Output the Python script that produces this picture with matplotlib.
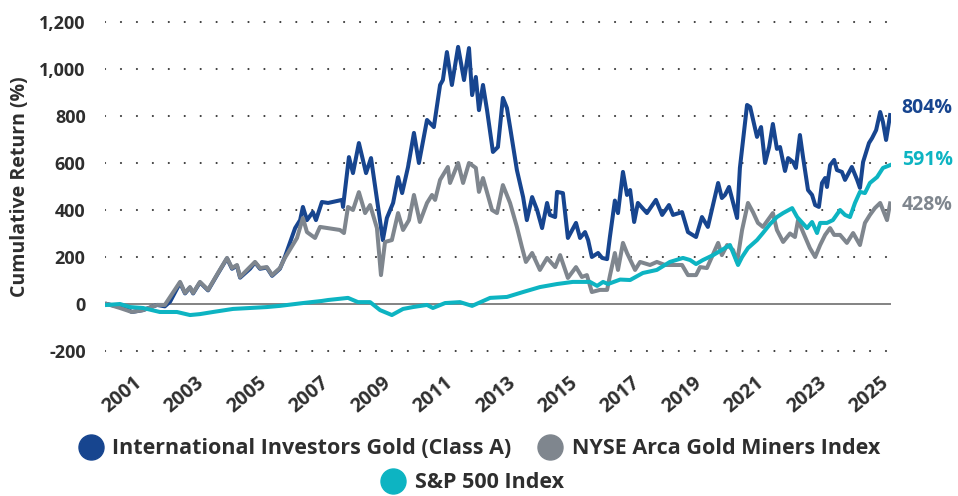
import numpy as np
import matplotlib
matplotlib.use('Agg')
import matplotlib.pyplot as plt
import matplotlib.transforms as mtransforms
from matplotlib.lines import Line2D

plt.rcParams['font.family'] = ['Open Sans', 'DejaVu Sans']

# ── 데이터 (그림에서 읽은 근사값, 누적수익률 %) ─────────────────────────
gold_years = [2000.00, 2000.26, 2000.58, 2000.80, 2001.16, 2001.61, 2001.86, 2002.03, 2002.35, 2002.51,
              2002.67, 2002.77, 2002.99, 2003.25, 2003.57, 2003.86, 2004.02, 2004.18, 2004.28, 2004.60,
              2004.76, 2004.92, 2005.14, 2005.31, 2005.56, 2005.72, 2006.05, 2006.21, 2006.30, 2006.43,
              2006.62, 2006.72, 2006.91, 2007.11, 2007.56, 2007.59, 2007.78, 2007.91, 2008.10, 2008.33,
              2008.49, 2008.87, 2009.00, 2009.20, 2009.36, 2009.49, 2009.68, 2009.87, 2010.03, 2010.29,
              2010.51, 2010.71, 2010.80, 2010.93, 2011.09, 2011.29, 2011.48, 2011.64, 2011.74, 2011.86,
              2011.96, 2012.09, 2012.22, 2012.41, 2012.57, 2012.73, 2012.86, 2012.96, 2013.18, 2013.38,
              2013.50, 2013.67, 2013.83, 2013.99, 2014.15, 2014.24, 2014.41, 2014.47, 2014.66, 2014.82,
              2015.08, 2015.21, 2015.37, 2015.47, 2015.59, 2015.79, 2015.92, 2016.08, 2016.17, 2016.33,
              2016.43, 2016.59, 2016.72, 2016.82, 2016.95, 2017.07, 2017.36, 2017.65, 2017.85, 2018.07,
              2018.20, 2018.49, 2018.68, 2018.94, 2019.13, 2019.32, 2019.65, 2019.77, 2019.87, 2020.00,
              2020.26, 2020.35, 2020.58, 2020.68, 2020.90, 2021.03, 2021.16, 2021.29, 2021.41, 2021.54,
              2021.64, 2021.80, 2021.90, 2022.06, 2022.15, 2022.28, 2022.38, 2022.54, 2022.67, 2022.77,
              2022.89, 2022.99, 2023.09, 2023.15, 2023.25, 2023.38, 2023.47, 2023.63, 2023.73, 2023.95,
              2024.12, 2024.21, 2024.31, 2024.50, 2024.60, 2024.73, 2024.86, 2024.95, 2025.05, 2025.18]
gold_vals = [0, -8, -17, -34, -26, -4, -10, 10, 90, 45,
             70, 45, 92, 58, 130, 194, 150, 163, 112, 150,
             177, 150, 155, 120, 150, 200, 323, 357, 413, 357,
             391, 357, 434, 430, 443, 413, 625, 557, 685, 557,
             621, 272, 366, 430, 540, 472, 583, 728, 600, 783,
             753, 932, 953, 1072, 932, 1094, 953, 1089, 889, 966,
             825, 932, 825, 647, 668, 877, 834, 753, 570, 455,
             357, 455, 400, 323, 430, 379, 370, 477, 472, 281,
             345, 281, 306, 272, 200, 217, 196, 191, 285, 440,
             387, 562, 464, 485, 349, 430, 387, 443, 379, 421,
             379, 391, 306, 285, 370, 328, 515, 451, 464, 498,
             366, 579, 847, 838, 711, 753, 600, 668, 766, 660,
             668, 566, 621, 604, 579, 719, 625, 485, 464, 421,
             413, 515, 536, 498, 591, 613, 570, 562, 528, 583,
             528, 494, 604, 685, 706, 740, 817, 774, 698, 804]

miners_years = [2000.00, 2000.42, 2000.80, 2001.16, 2001.61, 2001.86, 2002.03, 2002.35, 2002.51, 2002.67,
                2002.77, 2002.99, 2003.25, 2003.57, 2003.86, 2004.02, 2004.18, 2004.28, 2004.76, 2004.92,
                2005.14, 2005.31, 2005.56, 2005.72, 2006.11, 2006.30, 2006.43, 2006.69, 2006.85, 2007.49,
                2007.62, 2007.75, 2007.91, 2008.10, 2008.30, 2008.46, 2008.68, 2008.81, 2008.94, 2009.16,
                2009.36, 2009.52, 2009.71, 2009.87, 2010.06, 2010.29, 2010.45, 2010.55, 2010.71, 2010.96,
                2011.03, 2011.29, 2011.45, 2011.64, 2011.86, 2011.96, 2012.09, 2012.38, 2012.54, 2012.73,
                2012.96, 2013.18, 2013.34, 2013.47, 2013.67, 2013.92, 2014.15, 2014.41, 2014.57, 2014.82,
                2015.08, 2015.27, 2015.43, 2015.59, 2015.85, 2016.08, 2016.17, 2016.33, 2016.43, 2016.59,
                2016.72, 2016.98, 2017.14, 2017.46, 2017.68, 2017.94, 2018.49, 2018.68, 2018.94, 2019.07,
                2019.29, 2019.65, 2019.77, 2019.94, 2020.13, 2020.26, 2020.42, 2020.61, 2020.77, 2020.93,
                2021.09, 2021.41, 2021.54, 2021.74, 2021.96, 2022.12, 2022.22, 2022.38, 2022.60, 2022.77,
                2022.93, 2023.09, 2023.25, 2023.38, 2023.57, 2023.79, 2023.99, 2024.21, 2024.37, 2024.53,
                2024.69, 2024.86, 2024.95, 2025.08, 2025.18]
miners_vals = [0, -17, -34, -26, -4, -4, 30, 94, 47, 72,
               47, 94, 60, 132, 196, 153, 166, 115, 179, 153,
               157, 123, 153, 196, 281, 366, 306, 281, 328, 315,
               302, 413, 400, 476, 387, 421, 323, 123, 264, 272,
               387, 315, 357, 464, 349, 430, 464, 443, 528, 583,
               515, 600, 515, 600, 579, 477, 536, 400, 387, 506,
               430, 328, 243, 179, 217, 145, 196, 157, 208, 111,
               157, 115, 123, 51, 60, 60, 120, 217, 145, 260,
               217, 145, 179, 166, 179, 166, 166, 123, 123, 157,
               153, 260, 208, 251, 230, 179, 315, 430, 391, 345,
               328, 387, 315, 264, 300, 285, 357, 306, 238, 200,
               251, 294, 323, 294, 294, 260, 302, 251, 345, 379,
               408, 430, 400, 357, 428]

spx_years = [2000.00, 2000.42, 2000.74, 2001.16, 2001.70, 2002.25, 2002.67, 2002.99, 2003.41, 2004.05,
             2004.60, 2005.14, 2005.56, 2006.30, 2006.91, 2007.11, 2007.75, 2008.07, 2008.46, 2008.78,
             2009.16, 2009.52, 2009.84, 2010.29, 2010.48, 2010.87, 2011.35, 2011.74, 2012.32, 2012.86,
             2013.38, 2013.92, 2014.47, 2014.98, 2015.53, 2015.76, 2015.95, 2016.11, 2016.50, 2016.82,
             2017.23, 2017.68, 2018.10, 2018.52, 2018.75, 2018.94, 2019.16, 2019.49, 2019.77, 2020.03,
             2020.29, 2020.42, 2020.61, 2020.90, 2021.09, 2021.32, 2021.54, 2021.74, 2022.03, 2022.19,
             2022.51, 2022.67, 2022.83, 2022.93, 2023.15, 2023.34, 2023.57, 2023.73, 2023.89, 2024.05,
             2024.21, 2024.37, 2024.53, 2024.76, 2024.95, 2025.18]
spx_vals = [-4, 0, -13, -17, -34, -34, -47, -43, -34, -21,
            -17, -13, -8, 4, 13, 17, 26, 8, 8, -26,
            -47, -21, -13, -4, -17, 4, 8, -8, 26, 30,
            51, 72, 85, 94, 94, 77, 94, 85, 104, 102,
            132, 145, 179, 196, 187, 170, 187, 208, 230, 251,
            166, 200, 238, 272, 302, 340, 370, 387, 408, 370,
            323, 349, 302, 345, 345, 357, 400, 379, 370, 430,
            477, 472, 515, 540, 579, 591]

series_names = ['International Investors Gold (Class A)', 'NYSE Arca Gold Miners Index', 'S&P 500 Index']
end_labels = ['804%', '591%', '428%']
y_ticks = [-200, 0, 200, 400, 600, 800, 1000, 1200]
x_ticks = list(range(2001, 2026, 2))

C_GOLD = '#17458F'
C_MINERS = '#7F868E'
C_SPX = '#0DB4C2'
C_TEXT = '#2E2E2E'

# ── 그림 ──────────────────────────────────────────────────────────────
fig = plt.figure(figsize=(9.58, 4.96), dpi=100)
ax = fig.add_axes([0.1097, 0.2876, 0.8201, 0.6728])
ax.set_xlim(1999.94, 2025.2)
ax.set_ylim(-210, 1210)

# 점선 격자 (0은 실선)
for v in y_ticks:
    if v == 0:
        ax.axhline(0, xmin=0.002, color='#7A7A7A', lw=1.3, zorder=1)
    else:
        ax.axhline(v, color='#3A3A3A', lw=1.5, linestyle=(0, (0.05, 7.6)),
                   dash_capstyle='round', zorder=1)

lw = 2.9
ax.plot(miners_years, miners_vals, color=C_MINERS, lw=lw, zorder=3, solid_joinstyle='round')
ax.plot(gold_years, gold_vals, color=C_GOLD, lw=lw, zorder=2, solid_joinstyle='round')
ax.plot(spx_years, spx_vals, color=C_SPX, lw=lw, zorder=4, solid_joinstyle='round')

# 오른쪽 끝 라벨
for txt, y, c in zip(end_labels, [834, 613, 421], [C_GOLD, C_SPX, C_MINERS]):
    ax.text(2025.55, y, txt, color=c, fontsize=14, fontweight='bold',
            ha='left', va='center', clip_on=False)

for s in ax.spines.values():
    s.set_visible(False)

ax.set_yticks(y_ticks)
ax.set_yticklabels([f'{v:,}' for v in y_ticks])
ax.tick_params(axis='y', length=0, pad=14, labelsize=13, labelcolor=C_TEXT)
for lab in ax.get_yticklabels():
    lab.set_fontweight('bold')

ax.set_xticks(x_ticks)
ax.set_xticklabels([str(y) for y in x_ticks], rotation=40, ha='right')
ax.tick_params(axis='x', length=0, pad=14, labelsize=14, labelcolor=C_TEXT)
offset = mtransforms.ScaledTranslation(0.08, 0, fig.dpi_scale_trans)
for lab in ax.get_xticklabels():
    lab.set_fontweight('bold')
    lab.set_transform(lab.get_transform() + offset)

ax.set_ylabel('Cumulative Return (%)', fontsize=14, fontweight='bold',
              color=C_TEXT, labelpad=8)
ax.yaxis.set_label_coords(-0.095, 0.5)

# 범례: 윗줄 2개, 아랫줄 1개 가운데
def handle(c):
    return Line2D([], [], linestyle='none', marker='o', markersize=18,
                  markerfacecolor=c, markeredgecolor=c)

leg_prop = {'size': 15.5, 'weight': 'bold'}
leg1 = fig.legend([handle(C_GOLD), handle(C_MINERS)], series_names[:2], ncol=2,
                  loc='center', bbox_to_anchor=(0.501, 0.095), frameon=False,
                  handlelength=1.0, handletextpad=0.5, columnspacing=1.3,
                  prop=leg_prop)
leg2 = fig.legend([handle(C_SPX)], series_names[2:], loc='center',
                  bbox_to_anchor=(0.494, 0.027), frameon=False,
                  handlelength=1.0, handletextpad=0.5, prop=leg_prop)
for leg in (leg1, leg2):
    for t in leg.get_texts():
        t.set_color(C_TEXT)

fig.savefig('out.png', dpi=100)
